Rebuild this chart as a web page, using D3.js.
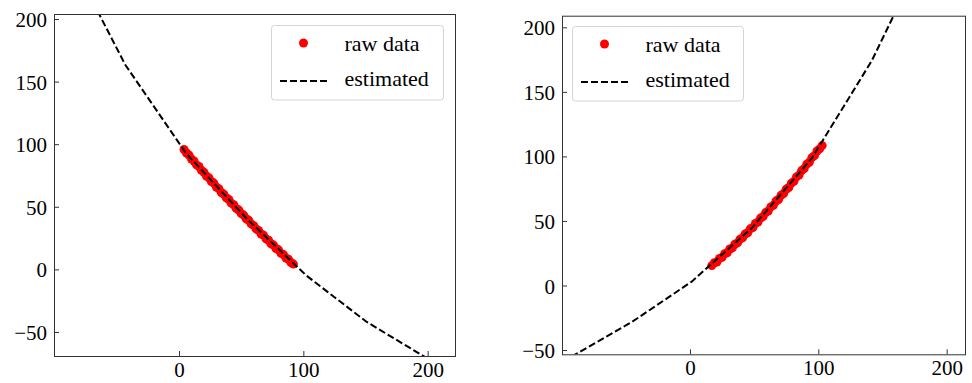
<!DOCTYPE html>
<html><head><meta charset="utf-8">
<script src="https://cdn.jsdelivr.net/npm/d3@7"></script>
<style>
html,body{margin:0;padding:0;background:#fff;}
svg{display:block;}
text{font-family:"Liberation Serif","Times New Roman",serif;fill:#000;}
</style></head>
<body>
<svg id="chart" width="972" height="383"></svg>
<script>
// ---- data ----
const xTicks = [0, 100, 200];
const yTicks = [-50, 0, 50, 100, 150, 200];
const legendLabels = ["raw data", "estimated"];

// left panel raw data
const leftRawX = [4,6,8,10,12,14,16,18,20,22,24,26,28,30,32,34,36,38,40,42,44,46,48,50,52,54,56,58,60,62,64,66,68,70,72,74,76,78,80,82,84,86,88,90,92];
const leftRawY = [95.8,93.0,91.3,88.2,86.6,83.5,82.2,79.1,77.6,74.6,73.2,70.2,68.9,65.8,64.4,61.4,60.1,57.2,55.8,52.9,51.6,48.7,47.4,44.6,43.3,40.4,39.2,36.3,35.1,32.3,31.1,28.3,27.2,24.4,23.3,20.5,19.4,16.7,15.6,12.9,11.8,9.1,8.1,5.5,4.2];
// left panel estimated curve
const leftEstX = [-91.5,-43,5.5,54,102.5,151,199.5,248];
const leftEstY = [256,163,93,41,-5,-42,-71,-95];

// right panel raw data
const rightRawX = [17,19,21,23,25,27,29,31,33,35,37,39,41,43,45,47,49,51,53,55,57,59,61,63,65,67,69,71,73,75,77,79,81,83,85,87,89,91,93,95,97,99,101,103];
const rightRawY = [15.4,17.6,18.2,21.0,21.8,24.6,25.4,28.3,29.1,32.0,33.0,35.9,36.9,39.9,40.9,43.9,44.9,48.0,49.1,52.2,53.4,56.5,57.7,60.9,62.1,65.4,66.6,69.9,71.2,74.6,75.9,79.3,80.7,84.1,85.5,89.0,90.5,94.0,95.5,99.1,100.6,104.2,105.8,108.4];
// right panel estimated curve
const rightEstX = [-92.2,-45.4,1.35,48.1,94.9,141.6,188.4];
const rightEstY = [-55,-28.4,3,44.5,98.5,174,270];

// ---- layout ----
const svg = d3.select("#chart");
const panels = [
  {rawX: leftRawX, rawY: leftRawY, estX: leftEstX, estY: leftEstY,
   xd: [-100.6, 222], yd: [-69.2, 204], xr: [54, 455], yr: [356, 14],
   leg: {x: 271.5, y: 25.5, w: 172, h: 74.5}},
  {rawX: rightRawX, rawY: rightRawY, estX: rightEstX, estY: rightEstY,
   xd: [-99.7, 214.3], yd: [-53.3, 209], xr: [562, 965], yr: [354.3, 15.7],
   leg: {x: 572.5, y: 26.5, w: 171, h: 74.5}}
];

panels.forEach((p, i) => {
  const x = d3.scaleLinear().domain(p.xd).range(p.xr);
  const y = d3.scaleLinear().domain(p.yd).range(p.yr);
  const g = svg.append("g");
  const clipId = "clip" + i;
  g.append("clipPath").attr("id", clipId).append("rect")
    .attr("x", p.xr[0]).attr("y", p.yr[1])
    .attr("width", p.xr[1] - p.xr[0]).attr("height", p.yr[0] - p.yr[1]);

  // scatter
  const pts = p.rawX.map((v, k) => [v, p.rawY[k]]);
  g.append("g").attr("clip-path", `url(#${clipId})`)
    .selectAll("circle").data(pts).enter().append("circle")
    .attr("cx", d => x(d[0])).attr("cy", d => y(d[1]))
    .attr("r", 4.5).attr("fill", "#ff0000");

  // estimated dashed line
  const est = p.estX.map((v, k) => [v, p.estY[k]]);
  g.append("path").attr("clip-path", `url(#${clipId})`)
    .datum(est)
    .attr("d", d3.line().x(d => x(d[0])).y(d => y(d[1])))
    .attr("fill", "none").attr("stroke", "#000")
    .attr("stroke-width", 2).attr("stroke-dasharray", "7,3");

  // axes
  const xa = d3.axisBottom(x).tickValues(xTicks).tickSizeInner(-5).tickSizeOuter(0).tickPadding(6);
  const ya = d3.axisLeft(y).tickValues(yTicks).tickSizeInner(-5).tickSizeOuter(0).tickPadding(7);
  const gx = g.append("g").attr("transform", `translate(0,${p.yr[0]})`).call(xa);
  const gy = g.append("g").attr("transform", `translate(${p.xr[0]},0)`).call(ya);
  [gx, gy].forEach(a => {
    a.select(".domain").remove();
    a.selectAll("line").attr("stroke", "#333");
    a.selectAll("text").attr("font-size", "21px")
      .attr("font-family", '"Liberation Serif", "Times New Roman", serif').attr("fill", "#000");
  });
  gy.selectAll("text").attr("dy", "0.36em");

  // frame
  g.append("rect").attr("x", p.xr[0] + 0.5).attr("y", p.yr[1] + 0.5)
    .attr("width", p.xr[1] - p.xr[0]).attr("height", p.yr[0] - p.yr[1])
    .attr("fill", "none").attr("stroke", "#333").attr("stroke-width", 1);

  // legend
  const L = p.leg;
  const lg = g.append("g");
  lg.append("rect").attr("x", L.x).attr("y", L.y).attr("width", L.w).attr("height", L.h)
    .attr("rx", 3).attr("fill", "#fff").attr("fill-opacity", 0.8)
    .attr("stroke", "#d4d4d4").attr("stroke-width", 1);
  lg.append("circle").attr("cx", L.x + 32).attr("cy", L.y + 17.5).attr("r", 4.5).attr("fill", "#ff0000");
  lg.append("line").attr("x1", L.x + 8.5).attr("x2", L.x + 55.5)
    .attr("y1", L.y + 55.5).attr("y2", L.y + 55.5)
    .attr("stroke", "#000").attr("stroke-width", 2).attr("stroke-dasharray", "7,3");
  lg.append("text").attr("x", L.x + 73).attr("y", L.y + 25).attr("font-size", "22px").text(legendLabels[0]);
  lg.append("text").attr("x", L.x + 73).attr("y", L.y + 60).attr("font-size", "22px").text(legendLabels[1]);
});
</script>
</body></html>
